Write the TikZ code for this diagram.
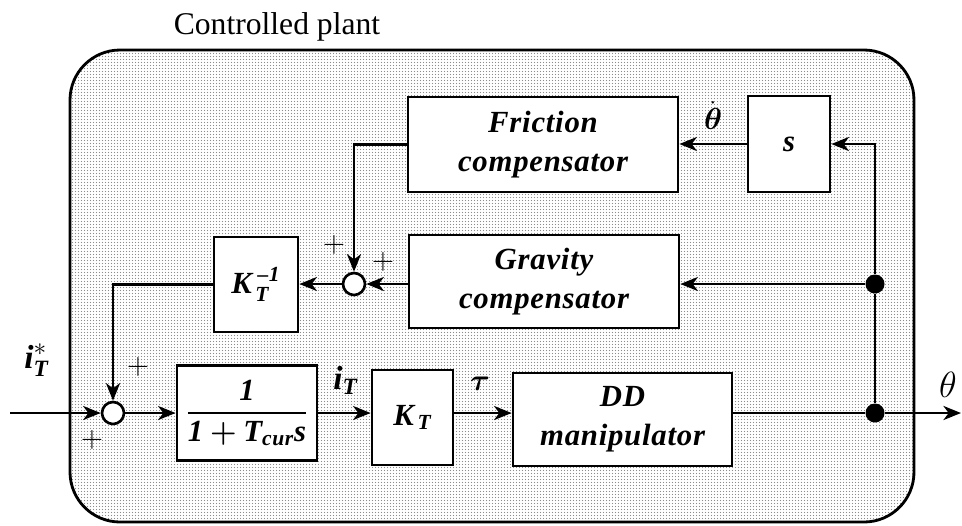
\documentclass[tikz,border=0pt]{standalone}
\usepackage{amsmath,amssymb}
\usepackage{fontspec}
\setmainfont{Liberation Serif}
\usetikzlibrary{positioning,arrows.meta,patterns.meta}
\newcommand{\bfit}[1]{\textbf{\textit{#1}}}
\tikzdeclarepattern{
  name=plantdots, type=uncolored,
  bounding box={(0pt,0pt) and (1.7pt,1.7pt)},
  tile size={(1.7pt,1.7pt)},
  code={\fill (0.85pt,0.85pt) circle (0.3pt);}}

\begin{document}
\begin{tikzpicture}[x=0.02cm,y=-0.02cm,
  block/.style={draw,line width=1.6pt,fill=white,align=center,inner sep=0pt,
    font=\fontsize{17.5}{22}\selectfont\bfseries\itshape\addfontfeatures{LetterSpace=2.5}},
  sumnode/.style={draw,line width=1.5pt,fill=white,circle,minimum size=0.44cm,inner sep=0pt},
  joint/.style={fill,circle,minimum size=0.38cm,inner sep=0pt},
  sig/.style={line width=1.5pt,-{Stealth[length=10pt,width=8pt,inset=3pt]}},
  wire/.style={line width=1.5pt},
  lbl/.style={font=\fontsize{19}{22}\selectfont},
  sgn/.style={font=\fontsize{16}{18}\selectfont}]
  \useasboundingbox (0,0) rectangle (962,525);
  % plant frame
  \draw[line width=1.6pt,rounded corners=1cm,pattern=plantdots,pattern color=black!45]
    (70,50) rectangle (914,522);
  \node[font=\fontsize{18}{22}\selectfont] (title) at (277,27) {Controlled plant};

  % blocks
  \node[block,minimum width=5.4cm,minimum height=1.9cm] (fric) at (543,144.5) {Friction\\compensator};
  \node[block,minimum width=1.64cm,minimum height=1.92cm] (sblk) at (789,144) {$\bfit{s}$};
  \node[block,minimum width=5.4cm,minimum height=1.86cm] (grav) at (544,281.5) {Gravity\\compensator};
  \node[block,minimum width=1.68cm,minimum height=1.9cm] (kinv) at (256,284.5) {$\bfit{K}^{\;\bfit{--1}}_{\,\bfit{T}}$};
  \node[block,minimum width=2.8cm,minimum height=1.9cm] (lag) at (247,413) {$\dfrac{\bfit{1}}{\bfit{1}\boldsymbol{+}\bfit{T}_{\bfit{cur}}\bfit{s}}$};
  \node[block,minimum width=1.62cm,minimum height=1.9cm] (kt) at (412.5,417.5) {$\bfit{K}_{\,\bfit{T}}$};
  \node[block,minimum width=4.38cm,minimum height=1.86cm] (dd) at (622.5,419.5) {DD\\manipulator};

  % summing points and branch points
  \node[sumnode] (sum2) at (354,284) {};
  \node[sumnode] (sum1) at (113,413) {};
  \node[joint] (dot1) at (875,413) {};
  \node[joint] (dot2) at (875,284) {};
  \coordinate (in) at (10,413);
  \coordinate (out) at (961,413);

  % signals
  \draw[sig] (in) -- (sum1.west);
  \draw[sig] (sum1.east) -- (lag.west);
  \draw[sig] (lag.east) -- (lag.east -| kt.west);
  \draw[sig] (kt.east |- lag.east) -- (dd.west |- lag.east);
  \draw[wire] (dd.east |- lag.east) -- (dot1);
  \draw[sig] (dot1) -- (out);
  \draw[wire] (dot1) -- (dot2);
  \draw[sig] (dot2) |- (sblk.east);
  \draw[sig] (dot2) -- (grav.east |- dot2);
  \draw[sig] (sblk.west) -- (fric.east |- sblk.west);
  \draw[sig] (fric.west) -| (sum2.north);
  \draw[sig] (grav.west |- sum2) -- (sum2.east);
  \draw[sig] (sum2.west) -- (kinv.east |- sum2);
  \draw[sig] (kinv.west) -| (sum1.north);

  % labels
  \node[lbl] (iref) at (37,360) {$\bfit{i}^{*}_{\bfit{T}}$};
  \node[lbl] (icur) at (346,380) {$\bfit{i}_{\bfit{T}}$};
  \node[lbl] (tau) at (480,384) {$\boldsymbol{\tau}$};
  \node[lbl] (thd) at (713,116) {$\dot{\boldsymbol{\theta}}$};
  \node[font=\fontsize{21}{24}\selectfont] (th) at (948,385) {$\theta$};
  \node[sgn] (p1) at (138,367) {$+$};
  \node[sgn] (p2) at (92,440) {$+$};
  \node[sgn] (p3) at (334,245) {$+$};
  \node[sgn] (p4) at (383,262) {$+$};
\end{tikzpicture}
\end{document}
